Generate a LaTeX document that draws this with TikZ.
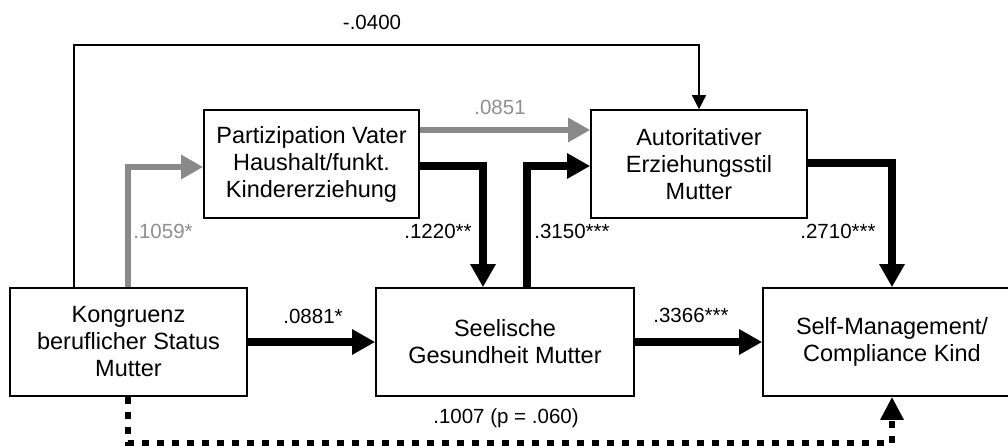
\documentclass[tikz,border=0pt]{standalone}
\usepackage{fontspec}
\setmainfont{Liberation Sans}
\usetikzlibrary{arrows.meta}
\definecolor{arrgray}{HTML}{898989}
\definecolor{labgray}{HTML}{8F8F8F}
\begin{document}
\begin{tikzpicture}[x=1pt,y=-1pt,
  box/.style={draw, line width=1.6pt, inner sep=0pt, align=center, minimum height=108pt, font=\fontsize{23.5}{27}\selectfont},
  lab/.style={inner sep=0pt, anchor=base, font=\fontsize{20.5}{24}\selectfont},
  thinarrow/.style={line width=1.5pt, -{Triangle[length=14pt,width=14pt]}},
  boldarrow/.style={line width=8pt, -{Triangle[length=23pt,width=24pt]}},
  grayarrow/.style={line width=6pt, draw=arrgray, -{Triangle[length=22pt,width=23pt]}},
  dotarrow/.style={line width=6pt, dash pattern=on 7pt off 8pt, -{Triangle[length=23pt,width=22pt]}},
]
\path[use as bounding box, clip] (0,0) rectangle (1008,446);

% boxes
\node[box, minimum width=237pt] (K) at (128.5,342) {Kongruenz\\beruflicher Status\\Mutter};
\node[box, minimum width=258pt] (S) at (505,342) {Seelische\\Gesundheit Mutter};
\node[box, minimum width=258pt] (SM) at (892,342) {Self-Management/\\Compliance Kind};
\node[box, minimum width=215pt] (P) at (311.5,164) {Partizipation Vater\\Haushalt/funkt.\\Kindererziehung};
\node[box, minimum width=216pt] (A) at (699,164) {Autoritativer\\Erziehungsstil\\Mutter};

% labels
\node[lab] (l0400) at (372,30) {-.0400};
\node[lab, text=labgray] (l1059) at (163,239) {.1059*};
\node[lab, text=labgray] (l0851) at (500,115) {.0851};
\node[lab] (l1220) at (438,239) {.1220**};
\node[lab] (l3150) at (572,239) {.3150***};
\node[lab] (l2710) at (838,239) {.2710***};
\node[lab] (l0881) at (313,323) {.0881*};
\node[lab] (l3366) at (691,322) {.3366***};
\node[lab] (l1007) at (506,423) {.1007 (p = .060)};

% connectors
\draw[thinarrow] ([xshift=65pt]K.north west) |- ([yshift=64pt]A.north) -- (A.north);
\draw[grayarrow] ([xshift=119pt]K.north west) |- ([yshift=-3pt]P.west);
\draw[grayarrow] ([yshift=34pt]P.east) -- ([yshift=34pt]A.west);
\draw[boldarrow] ([yshift=-2pt]P.east) -| ([xshift=-22pt]S.north);
\draw[boldarrow] ([xshift=22pt]S.north) |- ([yshift=-2pt]A.west);
\draw[boldarrow] ([yshift=0.5pt]A.east) -| (SM.north);
\draw[boldarrow] (K.east) -- (S.west);
\draw[boldarrow] (S.east) -- (SM.west);
\draw[dotarrow] ([xshift=119pt]K.south west) |- ([yshift=-46pt]SM.south) -- (SM.south);
\end{tikzpicture}
\end{document}
